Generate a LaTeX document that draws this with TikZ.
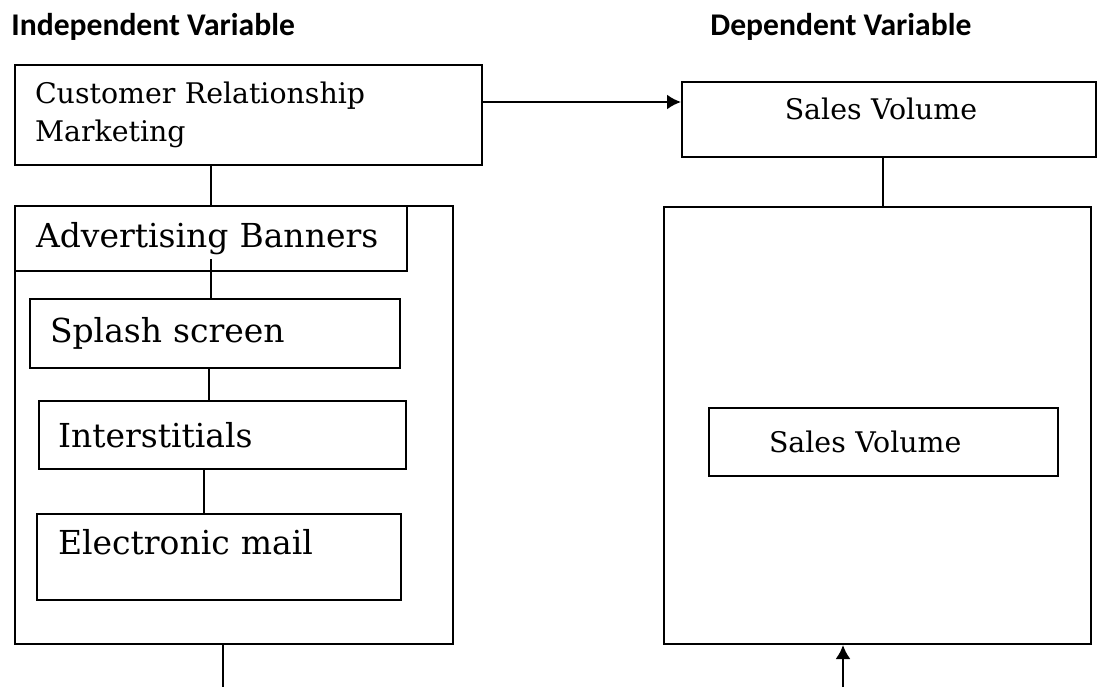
\documentclass[tikz,border=0pt]{standalone}
\usepackage{fontspec}
\setmainfont{DejaVu Serif}
\newfontfamily\headfont{Carlito}
\usetikzlibrary{arrows.meta,positioning,calc}

\begin{document}
\begin{tikzpicture}[x=0.5pt,y=-0.5pt,>=Latex,
  box/.style={draw,line width=1pt,anchor=north west,inner ysep=0pt,align=left},
  smalltxt/.style={font=\fontsize{14.2}{19}\selectfont},
  bigtxt/.style={font=\fontsize{16.5}{19}\selectfont},
  head/.style={font=\headfont\bfseries\fontsize{15.8}{18}\selectfont,anchor=base west,inner sep=0pt},
  link/.style={line width=0.8pt},
  flow/.style={line width=1.2pt,-{Latex[length=7pt,width=7.5pt]}}]
\useasboundingbox (0,0) rectangle (1110,687);

% headings
\node[head] (hind) at (11,35) {Independent Variable};
\node[head] (hdep) at (710,35) {Dependent Variable};

% independent side
\node[box,smalltxt,inner xsep=10pt,text width=213.5pt,minimum height=50pt] (crm) at (14,64) {Customer Relationship\\Marketing};
\node[box,minimum width=219pt,minimum height=219pt] (outL) at (14,205) {};
\node[box,bigtxt,inner xsep=10.5pt,text width=175pt,minimum height=32.5pt] (adv) at (14,205) {Advertising Banners};
\node[box,bigtxt,inner xsep=10pt,text width=165pt,minimum height=34.5pt] (splash) at (29,298) {Splash screen};
\node[box,bigtxt,inner xsep=9.5pt,text width=164.5pt,minimum height=34pt] (inter) at (38,400) {Interstitials};
\node[box,bigtxt,inner xsep=10.5pt,text width=161pt,minimum height=43pt,text depth=15pt] (email) at (36,513) {Electronic mail};

% dependent side
\node[box,smalltxt,align=center,inner xsep=10.5pt,text width=186pt,minimum height=37.5pt,text depth=11pt] (sales) at (681,81) {\hspace*{-8pt}Sales Volume};
\node[box,minimum width=213.5pt,minimum height=218.5pt] (outR) at (663,206) {};
\node[box,smalltxt,inner xsep=30pt,text width=114.5pt,minimum height=34pt] (salesin) at (708,407) {Sales Volume};

\coordinate (lfoot) at (223,687);
\coordinate (rfoot) at (843,687);

% connectors
\draw[flow] ([yshift=6.5pt]crm.east) -- ([yshift=6.5pt]crm.east -| sales.west);
\draw[link] (adv.north |- crm.south) -- (adv.north);
\draw[link] ([yshift=6.5pt]adv.south) -- (adv.south |- splash.north);
\draw[link] ([xshift=-1pt]adv.south |- splash.south) -- ([xshift=-1pt]adv.south |- inter.north);
\draw[link] ([xshift=-3.5pt]adv.south |- inter.south) -- ([xshift=-3.5pt]adv.south |- email.north);
\draw[link] (lfoot |- outL.south) -- (lfoot);
\draw[link] ([xshift=-3pt]sales.south) -- ([xshift=-3pt]sales.south |- outR.north);
\draw[flow] (rfoot) -- (rfoot |- outR.south);
\end{tikzpicture}
\end{document}
